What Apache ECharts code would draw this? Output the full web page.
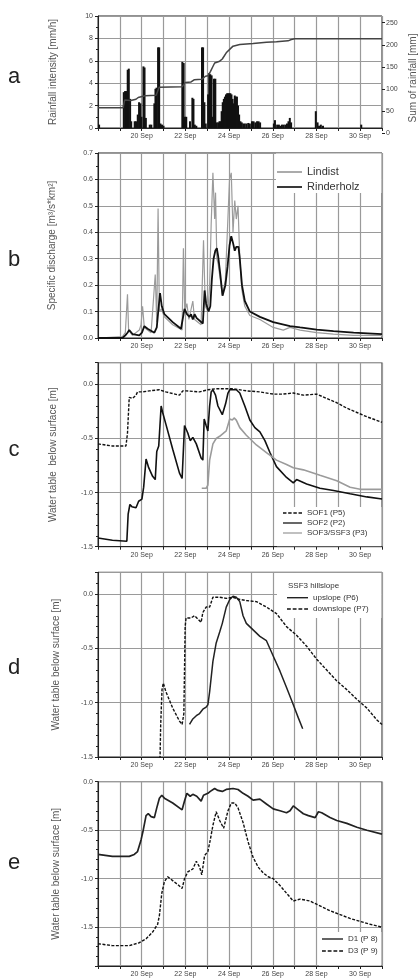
<!DOCTYPE html>
<html>
<head>
<meta charset="utf-8">
<script src="https://cdn.jsdelivr.net/npm/echarts@6.0.0/dist/echarts.min.js"></script>
<style>
html, body { margin: 0; padding: 0; background: #fff; }
#chart { width: 419px; height: 979px; }
</style>
</head>
<body>
<div id="chart"></div>
<script>
// x values are days of September (18.0 = 18 Sep 00:00, 31.0 = 1 Oct 00:00)
var dayLabels = [20, 22, 24, 26, 28, 30];

// a: rainfall intensity [mm/h]
var rainIntensity = [
  [18.05,0.3],
  [19.18,3.2],[19.24,3.3],[19.3,3.3],[19.36,5.2],[19.41,5.3],[19.47,2.6],[19.52,0.6],
  [19.68,0.6],[19.74,0.6],[19.82,1.2],[19.88,2.3],[19.94,2.2],[19.99,1.0],
  [20.08,5.5],[20.13,5.4],[20.19,0.9],[20.37,0.3],[20.44,0.3],
  [20.58,2.2],[20.63,3.5],[20.68,3.6],[20.75,7.2],[20.8,7.2],[20.86,0.4],[20.93,0.3],[21.0,0.2],
  [21.86,5.9],[21.92,5.8],[21.98,1.0],[22.04,1.0],
  [22.21,0.6],[22.32,2.7],[22.37,2.6],[22.43,0.3],[22.5,0.2],
  [22.76,7.2],[22.81,7.2],[22.87,2.3],[22.93,0.4],
  [23.04,3.0],[23.09,4.9],[23.14,4.8],[23.2,4.7],[23.25,1.0],[23.31,4.4],[23.37,4.4],
  [23.43,0.5],[23.5,0.5],[23.56,0.6],[23.61,0.6],
  [23.66,1.5],[23.71,2.3],[23.76,2.6],[23.81,2.8],[23.86,3.0],[23.91,3.1],[23.96,3.1],
  [24.01,3.1],[24.06,3.1],[24.11,3.0],[24.16,2.6],[24.21,2.2],[24.26,2.9],[24.31,2.8],
  [24.36,2.8],[24.41,2.0],[24.46,1.2],
  [24.52,0.6],[24.58,0.5],[24.65,0.4],[24.72,0.4],[24.8,0.4],[24.88,0.45],[24.95,0.4],
  [25.05,0.6],[25.12,0.6],[25.2,0.5],[25.28,0.6],[25.35,0.6],[25.42,0.5],
  [26.05,0.4],[26.1,0.7],[26.2,0.3],[26.28,0.3],[26.35,0.2],[26.42,0.3],[26.5,0.3],
  [26.58,0.3],[26.65,0.4],[26.72,0.6],[26.78,0.9],[26.84,0.5],
  [27.97,1.5],[28.05,0.5],[28.12,0.2],[28.2,0.3],[28.3,0.2],
  [30.05,0.3]
];
// a: sum of rainfall [mm]
var rainSum = [
  [18.0,58],[19.15,58],[19.22,75],[19.5,74],[19.74,77],[19.84,81],[20.15,85],[20.66,86],
  [20.8,104],[21.85,105],[22.0,115],[22.26,116],[22.4,121],[22.75,122],[22.92,129],
  [23.03,130],[23.15,140],[23.26,151],[23.34,159],[23.57,163],[23.69,168],[23.87,182],
  [24.18,197],[24.49,200.7],[25.1,203],[25.71,206],[26.17,207],[26.7,209],[26.85,212],
  [27.01,213.5],[31.0,214]
];

// b: specific discharge [m3/s*km2]
var qLindist = [
  [18,0],[19.12,0.005],[19.25,0.02],[19.35,0.165],[19.4,0.03],[19.58,0.01],[19.89,0.03],
  [19.97,0.05],[20.04,0.12],[20.12,0.04],[20.43,0.02],[20.62,0.24],[20.69,0.06],
  [20.75,0.49],[20.81,0.1],[20.9,0.11],[21.04,0.08],[21.42,0.05],[21.85,0.03],
  [21.91,0.34],[21.97,0.1],[22.07,0.13],[22.16,0.07],[22.34,0.14],[22.42,0.07],
  [22.72,0.05],[22.83,0.37],[22.91,0.12],[23.03,0.1],[23.11,0.2],[23.18,0.43],
  [23.26,0.625],[23.34,0.45],[23.38,0.55],[23.44,0.3],[23.5,0.28],[23.6,0.22],
  [23.7,0.16],[23.83,0.22],[23.92,0.4],[24.02,0.6],[24.1,0.625],[24.18,0.4],
  [24.26,0.52],[24.33,0.45],[24.41,0.5],[24.49,0.3],[24.59,0.18],[24.72,0.12],
  [24.95,0.085],[25.41,0.07],[26.02,0.04],[26.48,0.03],[26.79,0.04],[27.25,0.03],
  [28.01,0.02],[28.78,0.015],[29.7,0.01],[31,0.01]
];
var qRinderholz = [
  [18,0],[19.12,0],[19.25,0.01],[19.35,0.02],[19.43,0.03],[19.58,0.015],[19.89,0.01],
  [20.01,0.02],[20.12,0.045],[20.27,0.035],[20.58,0.02],[20.69,0.04],[20.78,0.12],
  [20.84,0.17],[20.92,0.12],[21.04,0.09],[21.42,0.06],[21.8,0.035],[21.88,0.03],
  [21.96,0.11],[22.07,0.09],[22.19,0.08],[22.26,0.09],[22.34,0.07],[22.42,0.09],
  [22.52,0.075],[22.8,0.055],[22.88,0.18],[22.95,0.13],[23.06,0.1],[23.14,0.12],
  [23.21,0.22],[23.29,0.3],[23.37,0.33],[23.44,0.34],[23.5,0.31],[23.6,0.24],
  [23.7,0.16],[23.83,0.2],[23.93,0.27],[24.02,0.35],[24.1,0.385],[24.18,0.36],
  [24.26,0.33],[24.33,0.345],[24.43,0.345],[24.49,0.3],[24.59,0.2],[24.72,0.14],
  [24.95,0.1],[25.41,0.08],[26.02,0.06],[26.79,0.045],[27.25,0.04],[28.01,0.032],
  [28.78,0.026],[29.7,0.02],[31,0.015]
];

// c: water table below surface [m]
var sof1 = [
  [18,-0.55],[18.66,-0.57],[19.28,-0.57],[19.35,-0.45],[19.43,-0.12],[19.58,-0.13],
  [19.74,-0.1],[19.81,-0.07],[20.04,-0.07],[20.35,-0.06],[20.81,-0.05],[21.11,-0.07],
  [21.73,-0.1],[21.88,-0.06],[22.03,-0.06],[22.65,-0.07],[23.03,-0.05],[23.41,-0.04],
  [24.18,-0.04],[24.79,-0.06],[25.41,-0.07],[26.02,-0.09],[26.48,-0.09],[26.94,-0.08],
  [27.4,-0.1],[28.01,-0.09],[28.47,-0.13],[28.93,-0.17],[29.39,-0.22],[29.85,-0.26],
  [30.31,-0.3],[31,-0.35]
];
var sof2 = [
  [18,-1.42],[18.66,-1.44],[19.32,-1.45],[19.38,-1.2],[19.46,-1.11],[19.55,-1.13],
  [19.74,-1.14],[19.86,-1.08],[20.01,-1.06],[20.09,-0.95],[20.2,-0.69],[20.32,-0.77],
  [20.5,-0.85],[20.62,-0.88],[20.69,-0.62],[20.78,-0.57],[20.89,-0.2],[20.96,-0.26],
  [21.11,-0.37],[21.42,-0.6],[21.73,-0.82],[21.85,-0.87],[21.88,-0.88],[21.96,-0.38],
  [22.11,-0.45],[22.22,-0.52],[22.34,-0.49],[22.5,-0.55],[22.72,-0.68],[22.8,-0.7],
  [22.86,-0.32],[22.95,-0.38],[23.03,-0.43],[23.11,-0.2],[23.18,-0.07],[23.26,-0.05],
  [23.38,-0.1],[23.49,-0.2],[23.69,-0.28],[23.84,-0.18],[23.95,-0.08],[24.03,-0.05],
  [24.33,-0.05],[24.49,-0.08],[24.72,-0.2],[24.95,-0.33],[25.18,-0.4],[25.41,-0.44],
  [25.64,-0.52],[25.87,-0.63],[26.17,-0.76],[26.63,-0.86],[26.94,-0.91],[27.09,-0.88],
  [27.55,-0.92],[28.16,-0.96],[28.78,-0.98],[29.54,-1.01],[30.31,-1.04],[31,-1.06]
];
var sof3 = [
  [22.75,-0.96],[22.95,-0.96],[23.03,-0.93],[23.11,-0.7],[23.26,-0.55],[23.41,-0.5],
  [23.57,-0.48],[23.87,-0.43],[24.03,-0.32],[24.15,-0.33],[24.23,-0.31],[24.33,-0.33],
  [24.49,-0.4],[24.79,-0.47],[25.25,-0.56],[25.71,-0.63],[26.17,-0.7],[26.63,-0.74],
  [26.94,-0.77],[27.4,-0.79],[28.16,-0.84],[28.93,-0.89],[29.54,-0.95],[30.0,-0.97],
  [31,-0.97]
];

// d: SSF3 hillslope water table [m]
var upslope = [
  [22.19,-1.2],[22.34,-1.15],[22.5,-1.12],[22.65,-1.1],[22.8,-1.06],[22.95,-1.04],
  [23.03,-1.02],[23.11,-0.9],[23.26,-0.62],[23.41,-0.45],[23.57,-0.35],[23.69,-0.27],
  [23.87,-0.12],[24.03,-0.05],[24.18,-0.02],[24.33,-0.03],[24.49,-0.07],[24.64,-0.2],
  [24.79,-0.27],[25.1,-0.33],[25.41,-0.39],[25.71,-0.43],[26.02,-0.57],[26.33,-0.71],
  [26.63,-0.86],[26.94,-1.02],[27.17,-1.14],[27.37,-1.24]
];
var downslope = [
  [20.83,-1.6],[20.87,-1.2],[20.93,-0.88],[20.99,-0.82],[21.11,-0.9],[21.42,-1.05],
  [21.73,-1.17],[21.85,-1.2],[21.93,-1.1],[21.99,-0.3],[22.03,-0.22],[22.26,-0.22],
  [22.42,-0.2],[22.57,-0.23],[22.72,-0.26],[22.8,-0.17],[22.95,-0.12],[23.11,-0.12],
  [23.26,-0.03],[23.34,-0.02],[23.57,-0.03],[23.87,-0.04],[24.18,-0.03],[24.49,-0.05],
  [24.79,-0.06],[25.25,-0.07],[25.71,-0.12],[26.17,-0.18],[26.63,-0.3],[27.09,-0.38],
  [27.55,-0.48],[28.01,-0.6],[28.47,-0.7],[28.93,-0.8],[29.39,-0.88],[29.85,-0.97],
  [30.31,-1.05],[30.77,-1.16],[31,-1.2]
];

// e: water table below surface [m]
var d1 = [
  [18,-0.75],[18.66,-0.77],[19.43,-0.77],[19.66,-0.75],[19.81,-0.72],[19.97,-0.6],
  [20.07,-0.5],[20.2,-0.35],[20.3,-0.33],[20.43,-0.36],[20.58,-0.37],[20.69,-0.27],
  [20.81,-0.17],[20.92,-0.14],[21.04,-0.17],[21.42,-0.22],[21.85,-0.29],[21.96,-0.2],
  [22.07,-0.12],[22.22,-0.15],[22.34,-0.13],[22.52,-0.15],[22.72,-0.2],[22.83,-0.14],
  [23.03,-0.12],[23.14,-0.1],[23.34,-0.07],[23.49,-0.09],[23.69,-0.1],[23.87,-0.08],
  [24.18,-0.07],[24.41,-0.08],[24.64,-0.12],[24.87,-0.15],[25.1,-0.19],[25.41,-0.18],
  [25.71,-0.23],[26.02,-0.28],[26.33,-0.3],[26.63,-0.32],[26.79,-0.3],[26.94,-0.25],
  [27.17,-0.29],[27.4,-0.33],[27.63,-0.35],[27.94,-0.37],[28.09,-0.31],[28.24,-0.32],
  [28.62,-0.37],[28.93,-0.4],[29.39,-0.43],[29.85,-0.47],[30.31,-0.5],[31,-0.54]
];
var d3 = [
  [18,-1.67],[18.66,-1.69],[19.43,-1.69],[19.89,-1.66],[20.2,-1.62],[20.5,-1.55],
  [20.73,-1.47],[20.81,-1.38],[20.92,-1.15],[21.04,-1.03],[21.19,-0.98],[21.42,-1.02],
  [21.65,-1.06],[21.85,-1.1],[21.96,-1.0],[22.11,-0.93],[22.34,-0.9],[22.5,-0.82],
  [22.65,-0.88],[22.75,-0.96],[22.88,-0.76],[23.03,-0.72],[23.14,-0.6],[23.26,-0.45],
  [23.41,-0.31],[23.57,-0.4],[23.75,-0.48],[23.95,-0.3],[24.1,-0.22],[24.26,-0.22],
  [24.41,-0.27],[24.64,-0.42],[24.87,-0.62],[25.1,-0.78],[25.33,-0.88],[25.56,-0.94],
  [25.79,-0.98],[26.02,-1.0],[26.33,-1.07],[26.63,-1.15],[26.94,-1.23],[27.25,-1.21],
  [27.7,-1.23],[28.16,-1.28],[28.62,-1.33],[29.08,-1.37],[29.54,-1.41],[30.0,-1.44],
  [30.46,-1.47],[31,-1.5]
];

var chart = echarts.init(document.getElementById('chart'), null, { renderer: 'canvas' });

var FONT = 'Liberation Sans';
var gridLine = { show: true, lineStyle: { color: '#9a9a9a', width: 1.2 } };
var SOLID_ICON = 'path://M0,0H24V1.6H0Z';
var DASH_ICON = 'path://M0,0H4V1.6H0Z M6,0H10V1.6H6Z M12,0H16V1.6H12Z M18,0H22V1.6H18Z';

function fmt1(v) {
  if (Math.abs(v) < 1e-9) return '0.0';
  return v.toFixed(1);
}

function makeX(gridIndex, show) {
  return {
    type: 'value', gridIndex: gridIndex, min: 18, max: 31, interval: 1,
    show: show !== false,
    axisLine: { onZero: false, lineStyle: { color: '#222' } },
    axisTick: { show: true, length: 3, lineStyle: { color: '#222' } },
    axisLabel: {
      fontSize: 7, color: '#444', margin: 5, fontFamily: FONT,
      formatter: function (v) {
        v = Math.round(v);
        return dayLabels.indexOf(v) >= 0 ? v + ' Sep' : '';
      }
    },
    splitLine: gridLine
  };
}

function makeY(gridIndex, o) {
  return {
    type: 'value', gridIndex: gridIndex, min: o.min, max: o.max, interval: o.interval,
    name: o.name, nameLocation: 'middle', nameGap: o.nameGap, nameRotate: 90,
    nameTextStyle: { fontSize: 10, color: '#555', fontFamily: FONT },
    axisLine: { show: true, onZero: false, lineStyle: { color: '#222' } },
    axisTick: { show: true, length: o.tickLen || 3, lineStyle: { color: '#222' } },
    minorTick: { show: !!o.minor, splitNumber: o.minor || 5, length: 2, lineStyle: { color: '#222' } },
    axisLabel: { fontSize: 7, color: '#444', margin: 5, fontFamily: FONT, formatter: o.formatter || fmt1, showMaxLabel: o.showMax !== false },
    splitLine: o.split === false ? { show: false } : gridLine
  };
}

var option = {
  animation: false,
  backgroundColor: '#fff',
  grid: [
    { left: 98, right: 37, top: 16, height: 112, show: true, borderColor: '#222', borderWidth: 1, outerBoundsMode: 'none' },
    { left: 98, right: 37, top: 22.7, height: 110.6, show: false, outerBoundsMode: 'none' },
    { left: 98, right: 37, top: 153, height: 185, show: true, borderColor: '#222', borderWidth: 1, outerBoundsMode: 'none' },
    { left: 98, right: 37, top: 362.7, height: 184, show: true, borderColor: '#222', borderWidth: 1, outerBoundsMode: 'none' },
    { left: 98, right: 37, top: 572.3, height: 184.7, show: true, borderColor: '#222', borderWidth: 1, outerBoundsMode: 'none' },
    { left: 98, right: 37, top: 781.7, height: 184.3, show: true, borderColor: '#222', borderWidth: 1, outerBoundsMode: 'none' }
  ],
  xAxis: [makeX(0), makeX(1, false), makeX(2), makeX(3), makeX(4), makeX(5)],
  yAxis: [
    makeY(0, { min: 0, max: 10, interval: 2, minor: 2, name: 'Rainfall intensity [mm/h]', nameGap: 40,
      formatter: function (v) { return String(Math.round(v)); } }),
    {
      type: 'value', gridIndex: 1, position: 'right', min: 0, max: 250, interval: 50,
      name: 'Sum of rainfall [mm]', nameLocation: 'middle', nameGap: 21, nameRotate: 90,
      nameTextStyle: { fontSize: 10, color: '#555', fontFamily: FONT },
      axisLine: { show: false },
      axisTick: { show: true, length: 3, lineStyle: { color: '#222' } },
      axisLabel: { fontSize: 7, color: '#444', margin: 4, fontFamily: FONT },
      splitLine: { show: false }
    },
    makeY(2, { min: 0, max: 0.7, interval: 0.1, minor: 2, name: 'Specific discharge [m\u00b3/s*km\u00b2]', nameGap: 41 }),
    makeY(3, { min: -1.5, max: 0.2, interval: 0.5, minor: 5, name: 'Water table  below surface [m]', nameGap: 40, showMax: false }),
    makeY(4, { min: -1.5, max: 0.2, interval: 0.5, minor: 5, name: 'Water table below surface [m]', nameGap: 37, showMax: false }),
    // e: labels and small ticks every 0.1 (labels only at multiples of 0.5)
    makeY(5, { min: -1.9, max: 0, interval: 0.1, tickLen: 2, split: false, name: 'Water table below surface [m]', nameGap: 37,
      formatter: function (v) {
        var r = Math.round(v * 10);
        return r % 5 === 0 ? fmt1(r / 10) : '';
      } }),
    // e: depth axis (inverse) giving the 0.5 m grid lines and major ticks
    {
      type: 'value', gridIndex: 5, position: 'left', inverse: true, min: 0, max: 1.9, interval: 0.5,
      axisLine: { show: false },
      axisTick: { show: true, length: 3, lineStyle: { color: '#222' } },
      axisLabel: { show: false },
      splitLine: gridLine
    }
  ],
  legend: [
    {
      data: ['Lindist', 'Rinderholz'], orient: 'vertical', left: 277, top: 166.5,
      padding: 0, itemWidth: 25, itemHeight: 11, itemGap: 4, selectedMode: false,
      textStyle: { fontSize: 11, color: '#333', fontFamily: FONT }, z: 6
    },
    {
      data: ['SOF1 (P5)', 'SOF2 (P2)', 'SOF3/SSF3 (P3)'], orient: 'vertical', left: 283, top: 509,
      padding: 0, itemWidth: 19, itemHeight: 8, itemGap: 2, itemTextGap: 4, selectedMode: false,
      textStyle: { fontSize: 8, color: '#333', fontFamily: FONT }, z: 6
    },
    {
      data: ['upslope (P6)', 'downslope (P7)'], orient: 'vertical', left: 287, top: 593.7,
      padding: 0, itemWidth: 21, itemHeight: 8, itemGap: 3.3, itemTextGap: 3, selectedMode: false,
      textStyle: { fontSize: 8, color: '#333', fontFamily: FONT }, z: 6
    },
    {
      data: ['D1 (P 8)', 'D3 (P 9)'], orient: 'vertical', left: 322, top: 935,
      padding: 0, itemWidth: 21, itemHeight: 8, itemGap: 4, itemTextGap: 3, selectedMode: false,
      textStyle: { fontSize: 8, color: '#333', fontFamily: FONT }, z: 6
    }
  ],
  graphic: [
    { type: 'rect', shape: { x: 276, y: 153.6, width: 105.4, height: 39.4 }, style: { fill: '#fff' }, z: 3, silent: true },
    { type: 'rect', shape: { x: 277, y: 507, width: 104.4, height: 39.2 }, style: { fill: '#fff' }, z: 3, silent: true },
    { type: 'rect', shape: { x: 277, y: 572.9, width: 104.4, height: 45 }, style: { fill: '#fff' }, z: 3, silent: true },
    { type: 'rect', shape: { x: 319, y: 932, width: 62.4, height: 33.5 }, style: { fill: '#fff' }, z: 3, silent: true },
    { type: 'text', x: 288, y: 585.7, style: { text: 'SSF3 hillslope', font: '8px "Liberation Sans"', fill: '#333', textVerticalAlign: 'middle' }, z: 6, silent: true },
    { type: 'text', x: 14, y: 77, style: { text: 'a', font: '22px "Liberation Sans"', fill: '#222', textAlign: 'center', textVerticalAlign: 'middle' }, z: 6 },
    { type: 'text', x: 14, y: 260, style: { text: 'b', font: '22px "Liberation Sans"', fill: '#222', textAlign: 'center', textVerticalAlign: 'middle' }, z: 6 },
    { type: 'text', x: 14, y: 450, style: { text: 'c', font: '22px "Liberation Sans"', fill: '#222', textAlign: 'center', textVerticalAlign: 'middle' }, z: 6 },
    { type: 'text', x: 14, y: 668, style: { text: 'd', font: '22px "Liberation Sans"', fill: '#222', textAlign: 'center', textVerticalAlign: 'middle' }, z: 6 },
    { type: 'text', x: 14, y: 863, style: { text: 'e', font: '22px "Liberation Sans"', fill: '#222', textAlign: 'center', textVerticalAlign: 'middle' }, z: 6 }
  ],
  series: [
    { type: 'bar', name: 'Rainfall intensity', xAxisIndex: 0, yAxisIndex: 0, data: rainIntensity,
      barWidth: 2, itemStyle: { color: '#111' }, silent: true },
    { type: 'line', name: 'Sum of rainfall', xAxisIndex: 1, yAxisIndex: 1, data: rainSum,
      symbol: 'none', lineStyle: { color: '#444', width: 1.5 }, silent: true },

    { type: 'line', name: 'Lindist', xAxisIndex: 2, yAxisIndex: 2, data: qLindist, symbol: 'none',
      color: '#9b9b9b', lineStyle: { color: '#9b9b9b', width: 1.2 }, silent: true },
    { type: 'line', name: 'Rinderholz', xAxisIndex: 2, yAxisIndex: 2, data: qRinderholz, symbol: 'none',
      color: '#111', lineStyle: { color: '#111', width: 1.8 }, silent: true },

    { type: 'line', name: 'SOF1 (P5)', xAxisIndex: 3, yAxisIndex: 3, data: sof1, symbol: 'none',
      color: '#111', lineStyle: { color: '#111', width: 1.4, type: [3, 1.5] }, silent: true },
    { type: 'line', name: 'SOF2 (P2)', xAxisIndex: 3, yAxisIndex: 3, data: sof2, symbol: 'none',
      color: '#111', lineStyle: { color: '#111', width: 1.6 }, silent: true },
    { type: 'line', name: 'SOF3/SSF3 (P3)', xAxisIndex: 3, yAxisIndex: 3, data: sof3, symbol: 'none',
      color: '#9b9b9b', lineStyle: { color: '#9b9b9b', width: 1.6 }, silent: true },

    { type: 'line', name: 'upslope (P6)', xAxisIndex: 4, yAxisIndex: 4, data: upslope, symbol: 'none',
      color: '#222', lineStyle: { color: '#222', width: 1.5 }, silent: true },
    { type: 'line', name: 'downslope (P7)', xAxisIndex: 4, yAxisIndex: 4, data: downslope, symbol: 'none',
      color: '#111', lineStyle: { color: '#111', width: 1.4, type: [3, 1.5] }, silent: true },

    { type: 'line', name: 'D1 (P 8)', xAxisIndex: 5, yAxisIndex: 5, data: d1, symbol: 'none',
      color: '#222', lineStyle: { color: '#222', width: 1.7 }, silent: true },
    { type: 'line', name: 'D3 (P 9)', xAxisIndex: 5, yAxisIndex: 5, data: d3, symbol: 'none',
      color: '#111', lineStyle: { color: '#111', width: 1.4, type: [3, 1.5] }, silent: true }
  ]
};

// legend icons: thin solid / dashed strokes like the original key
option.legend.forEach(function (lg) {
  lg.data = lg.data.map(function (n) {
    var dashed = n === 'SOF1 (P5)' || n === 'downslope (P7)' || n === 'D3 (P 9)';
    return { name: n, icon: dashed ? DASH_ICON : SOLID_ICON };
  });
});

chart.setOption(option);
</script>
</body>
</html>
